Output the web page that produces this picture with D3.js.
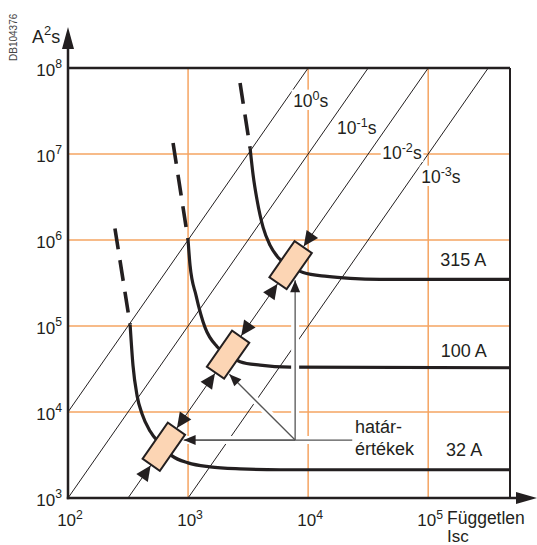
<!DOCTYPE html>
<html><head><meta charset="utf-8">
<script src="https://cdn.jsdelivr.net/npm/d3@7"></script>
<style>
body{margin:0;background:#fff}
svg{display:block}
text{font-family:"Liberation Sans",Arial,Helvetica,sans-serif;fill:#231f20}
</style>
</head><body>
<svg id="c" width="537" height="545"></svg>
<script>
// ---------- data ----------
const xTicks = [1e2, 1e3, 1e4, 1e5];
const xTickExp = ["2", "3", "4", "5"];
const yTicks = [1e3, 1e4, 1e5, 1e6, 1e7, 1e8];
const yTickExp = ["3", "4", "5", "6", "7", "8"];
const xGrid = [1e3, 1e4, 1e5];
const yGrid = [1e4, 1e5, 1e6, 1e7];

const timeLines = [1, 0.1, 0.01, 0.001];           // seconds: A²s = I² · t
const timeLabelExp = ["0", "-1", "-2", "-3"];
const timeLabelI = [7500, 17400, 41400, 87400];
const timeLabelY = [3.52e7, 1.71e7, 8.75e6, 4.6e6];

const fuseNames = ["32 A", "100 A", "315 A"];
const fuseLabelI = [1.41e5, 1.27e5, 1.26e5];
const fuseLabelY = [3.08e3, 4.37e4, 4.99e5];

const curve32I = [329, 348, 376, 414, 482, 584, 735, 1000, 1525, 2710, 5840, 480000];
const curve32Y = [1.04e5, 3.45e4, 1.55e4, 9.5e3, 6.0e3, 4.26e3, 3.09e3, 2.56e3, 2.30e3, 2.18e3, 2.13e3, 2.13e3];
const curve100I = [1000, 1039, 1166, 1386, 1745, 2196, 2712, 3981, 7079, 480000];
const curve100Y = [1e6, 5.06e5, 2.26e5, 9.58e4, 5.75e4, 4.52e4, 3.85e4, 3.50e4, 3.32e4, 3.27e4];
const curve315I = [3286, 3483, 3758, 4217, 4822, 5623, 7079, 9085, 14400, 22400, 39800, 480000];
const curve315Y = [1.17e7, 5.66e6, 2.90e6, 1.40e6, 8.65e5, 6.27e5, 4.92e5, 4.19e5, 3.77e5, 3.57e5, 3.48e5, 3.48e5];
const dashTopI = [246, 750, 2710];
const dashTopY = [1.36e6, 1.34e7, 6.7e7];

const boxI = [628, 2154, 7145];
const boxT = 0.01;                                   // boxes sit on the 10^-2 s line

const limitOriginI = 7793, limitOriginY = 4720;
const limitAimI = [944, 2371, 7793];
const limitAimY = [4720, 2.48e4, 2.0e5];
const limitLineEndI = 2.33e4;

// ---------- layout ----------
const svg = d3.select("#c");
const x = d3.scaleLog().domain([1e2, 4.8e5]).range([68, 510]);
const y = d3.scaleLog().domain([1e3, 1e8]).range([498, 68]);
const X0 = x.range()[0], X1 = x.range()[1], Y0 = y.range()[0], Y1 = y.range()[1];
const ink = "#231f20", orange = "#f5a462", peach = "#fcd5b4";

svg.append("defs").append("clipPath").attr("id", "plot")
  .append("rect").attr("x", X0).attr("y", Y1).attr("width", X1 - X0).attr("height", Y0 - Y1);

// grid
const grid = svg.append("g").attr("stroke", orange).attr("stroke-width", 1.5);
grid.selectAll(".gv").data(xGrid).join("line")
  .attr("x1", d => x(d)).attr("x2", d => x(d)).attr("y1", Y1).attr("y2", Y0);
grid.selectAll(".gh").data(yGrid).join("line")
  .attr("y1", d => y(d)).attr("y2", d => y(d)).attr("x1", X0).attr("x2", X1);

// time diagonals
svg.append("g").attr("clip-path", "url(#plot)").selectAll("line").data(timeLines).join("line")
  .attr("x1", d => x(10)).attr("y1", d => y(d * 100))
  .attr("x2", d => x(1e7)).attr("y2", d => y(d * 1e14))
  .attr("stroke", ink).attr("stroke-width", 1);

// curves
const line = d3.line().x(d => x(d[0])).y(d => y(d[1])).curve(d3.curveMonotoneX);
const curves = [[curve32I, curve32Y], [curve100I, curve100Y], [curve315I, curve315Y]];
curves.forEach((c, i) => {
  const pts = c[0].map((v, k) => [v, c[1][k]]);
  svg.append("path").attr("d", line(pts)).attr("fill", "none")
    .attr("stroke", ink).attr("stroke-width", 3.2);
  svg.append("line")
    .attr("x1", x(dashTopI[i])).attr("y1", y(dashTopY[i]))
    .attr("x2", x(c[0][0])).attr("y2", y(c[1][0]))
    .attr("stroke", ink).attr("stroke-width", 3.6).attr("stroke-dasharray", "21 11");
});

// geometry of boxes
const p1 = [x(1000), y(boxT * 1e6)], p2 = [x(10000), y(boxT * 1e8)];
const L = Math.hypot(p2[0] - p1[0], p2[1] - p1[1]);
const e1 = [(p2[0] - p1[0]) / L, (p2[1] - p1[1]) / L];
const e2 = [-e1[1], e1[0]];
const ang = Math.atan2(e1[1], e1[0]) * 180 / Math.PI;
const HL = 23, HW = 11.5;
const centers = boxI.map(v => [x(v), y(boxT * v * v)]);

// limit-value annotation lines
const ox = x(limitOriginI), oy = y(limitOriginY);
const tips = limitAimI.map((v, i) => {
  const ax = x(v), ay = y(limitAimY[i]);
  const dl = Math.hypot(ax - ox, ay - oy), dx = (ax - ox) / dl, dy = (ay - oy) / dl;
  const c = centers[i];
  let s = 0;
  for (; s < 400; s += 0.25) {
    const px = ox + s * dx - c[0], py = oy + s * dy - c[1];
    const u = px * e1[0] + py * e1[1], w = px * e2[0] + py * e2[1];
    if (Math.abs(u) <= HL + 1 && Math.abs(w) <= HW + 1) break;
  }
  return { x: ox + s * dx, y: oy + s * dy, dx, dy };
});
const ann = svg.append("g");
const segs = tips.map(t => [ox, oy, t.x, t.y]).concat([[x(limitAimI[0]), oy, x(limitLineEndI), oy]]);
ann.selectAll(".halo").data(segs).join("line")
  .attr("x1", d => d[0]).attr("y1", d => d[1]).attr("x2", d => d[2]).attr("y2", d => d[3])
  .attr("stroke", "#fff").attr("stroke-width", 8);
ann.selectAll(".ln").data(segs).join("line")
  .attr("x1", d => d[0]).attr("y1", d => d[1]).attr("x2", d => d[2]).attr("y2", d => d[3])
  .attr("stroke", "#555").attr("stroke-width", 1.3);

// boxes
svg.append("g").selectAll("rect").data(centers).join("rect")
  .attr("transform", d => `translate(${d[0]},${d[1]}) rotate(${ang})`)
  .attr("x", -HL + 1).attr("y", -HW + 1).attr("width", 2 * HL - 2).attr("height", 2 * HW - 2)
  .attr("fill", peach).attr("stroke", ink).attr("stroke-width", 2);

// arrowheads
function head(tx, ty, dx, dy, len, hw) {
  const bx = tx - dx * len, by = ty - dy * len;
  return `M${tx},${ty}L${bx + dy * hw},${by - dx * hw}L${bx - dy * hw},${by + dx * hw}Z`;
}
const heads = [];
centers.forEach(c => {
  heads.push(head(c[0] + e1[0] * HL, c[1] + e1[1] * HL, -e1[0], -e1[1], 15, 7));
  heads.push(head(c[0] - e1[0] * HL, c[1] - e1[1] * HL, e1[0], e1[1], 15, 7));
});
tips.forEach(t => heads.push(head(t.x, t.y, t.dx, t.dy, 12, 5)));
svg.append("g").selectAll("path").data(heads).join("path").attr("d", d => d).attr("fill", ink);

// frame and axes
const fr = svg.append("g").attr("stroke", ink);
fr.append("line").attr("x1", X0).attr("x2", X1).attr("y1", Y1).attr("y2", Y1).attr("stroke-width", 2.5);
fr.append("line").attr("x1", X1).attr("x2", X1).attr("y1", Y1).attr("y2", Y0).attr("stroke-width", 2);
fr.append("line").attr("x1", X0).attr("x2", X0).attr("y1", Y0 + 1.2).attr("y2", 44).attr("stroke-width", 2.5);
fr.append("line").attr("x1", X0 - 1.2).attr("x2", 520).attr("y1", Y0).attr("y2", Y0).attr("stroke-width", 2.5);
svg.append("path").attr("d", `M${X0},27L${X0 - 6},49L${X0 + 6},49Z`).attr("fill", ink);
svg.append("path").attr("d", `M537,${Y0}L516,${Y0 - 6}L516,${Y0 + 6}Z`).attr("fill", ink);

// text helpers
function supText(g, px, py, base, sup, tail, size, anchor) {
  const t = g.append("text").attr("x", px).attr("y", py).attr("font-size", size)
    .attr("text-anchor", anchor || "start");
  t.append("tspan").text(base);
  t.append("tspan").attr("dy", -size * 0.42).attr("font-size", size * 0.72).text(sup);
  if (tail) t.append("tspan").attr("dy", size * 0.42).text(tail);
  return t;
}
function whiteBg(t, pad) {
  const b = t.node().getBBox();
  const r = document.createElementNS("http://www.w3.org/2000/svg", "rect");
  t.node().parentNode.insertBefore(r, t.node());
  d3.select(r)
    .attr("x", b.x - pad).attr("y", b.y + 1).attr("width", b.width + 2 * pad).attr("height", b.height - 2)
    .attr("fill", "#fff");
}

const tg = svg.append("g");
yTicks.forEach((v, i) => supText(tg, 62, y(v) + 7.5, "10", yTickExp[i], null, 17, "end"));
xTicks.forEach((v, i) => supText(tg, x(v) + 2, 526, "10", xTickExp[i], null, 17, "middle"));

timeLines.forEach((v, i) => {
  const t = supText(tg, x(timeLabelI[i]), y(timeLabelY[i]), "10", timeLabelExp[i], "s", 17.5);
  whiteBg(t, 1.5);
});

fuseNames.forEach((n, i) => tg.append("text").attr("x", x(fuseLabelI[i])).attr("y", y(fuseLabelY[i]))
  .attr("font-size", 18).text(n));

tg.append("text").attr("x", 355).attr("y", 433).attr("font-size", 18).text("határ-");
tg.append("text").attr("x", 355).attr("y", 455).attr("font-size", 18).text("értékek");

supText(tg, 32, 43, "A", "2", "s", 18);
tg.append("text").attr("x", 447).attr("y", 524).attr("font-size", 17.5).text("Független");
tg.append("text").attr("x", 447).attr("y", 542).attr("font-size", 17).text("Isc");
tg.append("text").attr("transform", "translate(17,61) rotate(-90)").attr("font-size", 10)
  .style("fill", "#444").text("DB104376");
</script>
</body></html>
